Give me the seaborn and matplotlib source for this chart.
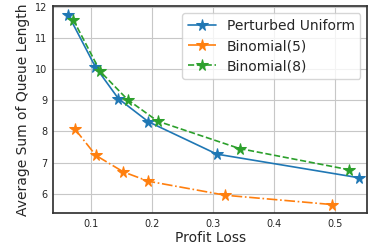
import numpy as np
import pandas as pd
import matplotlib
matplotlib.use('Agg')
import matplotlib.pyplot as plt
import seaborn as sns

# values
uniform_x = [0.063, 0.107, 0.145, 0.194, 0.306, 0.539]
uniform_y = [11.74, 10.08, 9.05, 8.31, 7.27, 6.51]
binom5_x = [0.074, 0.108, 0.153, 0.194, 0.320, 0.495]
binom5_y = [8.07, 7.23, 6.70, 6.40, 5.95, 5.65]
binom8_x = [0.071, 0.115, 0.160, 0.209, 0.343, 0.522]
binom8_y = [11.59, 9.93, 9.02, 8.33, 7.45, 6.77]

labels = ['Perturbed Uniform', 'Binomial(5)', 'Binomial(8)']
styles = ['-', '-.', '--']

sns.set_style('whitegrid', {'axes.edgecolor': '0.2', 'grid.color': '0.78'})
colors = sns.color_palette('tab10')

fig, ax = plt.subplots(figsize=(3.71, 2.5), dpi=100)
series = [(uniform_x, uniform_y), (binom5_x, binom5_y), (binom8_x, binom8_y)]
for i, (xs, ys) in enumerate(series):
    df = pd.DataFrame({'x': xs, 'y': ys})
    sns.lineplot(data=df, x='x', y='y', ax=ax, color=colors[i], linestyle=styles[i],
                 marker='*', markersize=8.5, markeredgecolor=colors[i],
                 linewidth=1.2, label=labels[i], sort=False)

ax.set_xlim(0.038, 0.552)
ax.set_ylim(5.38, 12.02)
ax.set_xticks([0.1, 0.2, 0.3, 0.4, 0.5])
ax.set_yticks([6, 7, 8, 9, 10, 11, 12])
ax.tick_params(labelsize=7, length=0, pad=4)
ax.set_xlabel('Profit Loss', fontsize=10, labelpad=2)
ax.set_ylabel('Average Sum of Queue Length', fontsize=10, labelpad=4)
for s in ax.spines.values():
    s.set_linewidth(1.25)
ax.legend(loc='upper right', fontsize=10, frameon=True, handlelength=2.0,
          borderpad=0.4, labelspacing=0.45)

fig.subplots_adjust(left=0.143, right=0.99, top=0.975, bottom=0.148)
fig.savefig('out.png', dpi=100)
